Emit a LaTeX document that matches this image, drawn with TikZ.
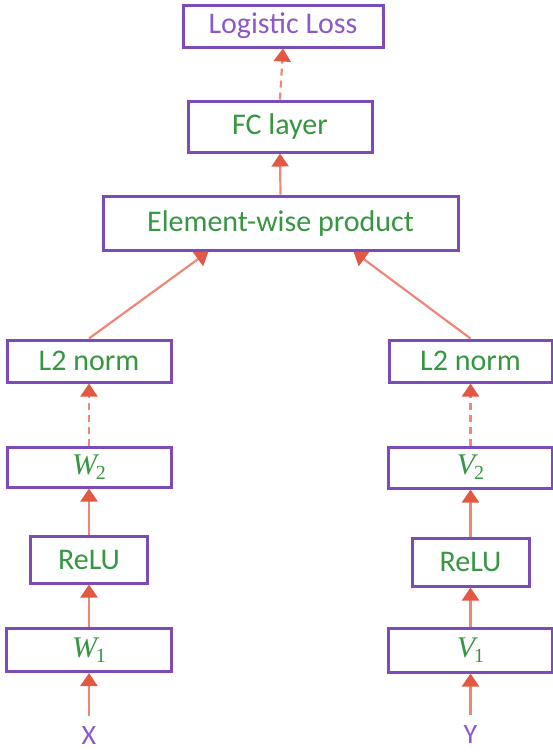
\documentclass[tikz,border=0pt]{standalone}
\usepackage{fontspec}
\setmainfont{Carlito}
\newfontfamily\tms{Liberation Serif}
\usetikzlibrary{arrows.meta}
\definecolor{boxpurple}{RGB}{125,75,185}
\definecolor{txtgreen}{RGB}{55,150,65}
\definecolor{txtpurple}{RGB}{140,90,200}
\definecolor{arrline}{RGB}{238,135,120}
\definecolor{arrhead}{RGB}{226,88,66}
\newcommand{\mvar}[2]{{\tms\itshape\fontsize{30}{32}\selectfont #1}\kern-1pt\raisebox{-5pt}{\tms\fontsize{20}{20}\selectfont #2}}
\tikzset{
  blk/.style={draw=boxpurple, line width=3pt, fill=white, inner sep=0pt,
    text=txtgreen, font=\fontsize{30}{32}\selectfont, anchor=center},
  lbl/.style={text=txtpurple, font=\fontsize{28}{30}\selectfont, inner sep=0pt},
  arr/.style={draw=arrline, line width=2.2pt,
    -{Triangle[length=13pt,width=17pt,color=arrhead]}},
  dsh/.style={arr, dash pattern=on 7pt off 5pt}
}
\begin{document}
\begin{tikzpicture}[x=1pt,y=-1pt]
\useasboundingbox (0,0) rectangle (553,755);
\node[blk, minimum width=200pt, minimum height=42pt, text=txtpurple] (loss) at (283,26) {Logistic Loss};
\node[blk, minimum width=184pt, minimum height=51pt] (fc) at (280,126.5) {FC layer};
\node[blk, minimum width=355pt, minimum height=54pt] (prod) at (280.5,223) {Element-wise product};
\node[blk, minimum width=164pt, minimum height=42pt] (l2L) at (89,361) {L2 norm};
\node[blk, minimum width=164pt, minimum height=40pt] (w2) at (89,467) {\mvar{W}{2}};
\node[blk, minimum width=117pt, minimum height=47pt] (reluL) at (89,559.5) {ReLU};
\node[blk, minimum width=165pt, minimum height=43pt] (w1) at (89,650) {\mvar{W}{1}};
\node[lbl] (x) at (89,736) {X};
\node[blk, minimum width=163pt, minimum height=42pt] (l2R) at (470.5,361) {L2 norm};
\node[blk, minimum width=164pt, minimum height=41pt] (v2) at (470.5,467.5) {\mvar{V}{2}};
\node[blk, minimum width=117pt, minimum height=48pt] (reluR) at (470.5,562) {ReLU};
\node[blk, minimum width=164pt, minimum height=44pt] (v1) at (470.5,650) {\mvar{V}{1}};
\node[lbl] (y) at (470.5,735) {Y};
\draw[dsh] (fc.north) -- (loss.south);
\draw[arr] (prod.north) -- (fc.south);
\draw[arr] (l2L.north) -- ([xshift=-72pt]prod.south);
\draw[arr] (l2R.north) -- ([xshift=73pt]prod.south);
\draw[dsh] (w2.north) -- (l2L.south);
\draw[arr] (reluL.north) -- (w2.south);
\draw[arr] (w1.north) -- (reluL.south);
\draw[arr, shorten <=11pt] (x.north) -- (w1.south);
\draw[dsh] (v2.north) -- (l2R.south);
\draw[arr] (reluR.north) -- (v2.south);
\draw[arr] (v1.north) -- (reluR.south);
\draw[arr, shorten <=11pt] (y.north) -- (v1.south);
\end{tikzpicture}
\end{document}
